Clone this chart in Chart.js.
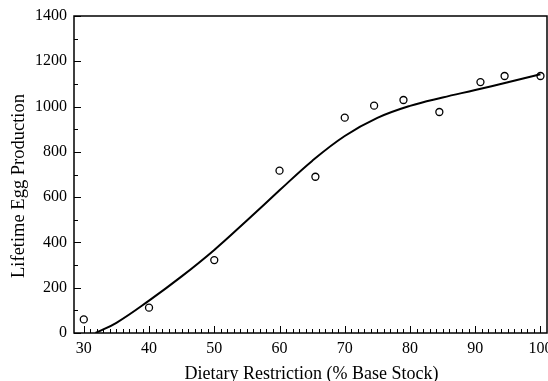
<!DOCTYPE html>
<html>
<head>
<meta charset="utf-8">
<script src="https://cdn.jsdelivr.net/npm/chart.js@4/dist/chart.umd.min.js"></script>
<style>
html,body{margin:0;padding:0;background:#fff;overflow:hidden;}
#wrap{width:548px;height:381px;position:relative;overflow:hidden;}
canvas{display:block;}
</style>
</head>
<body>
<div id="wrap"><canvas id="c" width="548" height="381"></canvas></div>
<script>
// Observed data points (circles)
const obsX = [30, 40, 50, 60, 65.5, 70, 74.5, 79, 84.5, 90.8, 94.5, 100];
const obsY = [60, 112, 322, 717, 690, 951, 1004, 1029, 976, 1108, 1135, 1135];
// Fitted curve
const fitX = [31.8, 35, 40, 45, 50, 55, 60, 65, 70, 75, 80, 85, 90, 95, 100];
const fitY = [0, 45, 143, 250, 367, 497, 630, 760, 870, 950, 1003, 1040, 1073, 1107, 1143];
// Tick labels
const xTicks = [30, 40, 50, 60, 70, 80, 90, 100];
const yTicks = [0, 200, 400, 600, 800, 1000, 1200, 1400];
const xTitle = 'Dietary Restriction (% Base Stock)';
const yTitle = 'Lifetime Egg Production';

const FONT = "'Liberation Serif', 'Times New Roman', serif";

const framePlugin = {
  id: 'frame',
  afterDraw(chart) {
    const {ctx, chartArea: a, scales: {x, y}} = chart;
    ctx.save();
    ctx.strokeStyle = '#000';
    ctx.lineWidth = 1.5;
    ctx.strokeRect(a.left, a.top, a.right - a.left, a.bottom - a.top);
    ctx.lineWidth = 1;
    // x ticks (inward)
    const xmin = xTicks[0], xmax = xTicks[xTicks.length - 1];
    for (let v = xmin; v <= xmax; v += 1) {
      const px = Math.round(x.getPixelForValue(v)) + 0.5;
      const len = xTicks.includes(v) ? 7 : 4;
      ctx.beginPath(); ctx.moveTo(px, a.bottom); ctx.lineTo(px, a.bottom - len); ctx.stroke();
    }
    // y ticks (inward)
    const step = (yTicks[1] - yTicks[0]) / 2;
    for (let v = yTicks[0]; v <= yTicks[yTicks.length - 1]; v += step) {
      const py = Math.round(y.getPixelForValue(v)) + 0.5;
      const len = yTicks.includes(v) ? 7 : 4;
      ctx.beginPath(); ctx.moveTo(a.left, py); ctx.lineTo(a.left + len, py); ctx.stroke();
    }
    ctx.fillStyle = '#000';
    // x tick labels placed through the x scale
    ctx.font = '16px ' + FONT;
    ctx.textAlign = 'center';
    ctx.textBaseline = 'middle';
    xTicks.forEach(v => ctx.fillText(String(v), x.getPixelForValue(v), a.bottom + 16));
    // titles
    ctx.font = '18px ' + FONT;
    ctx.textBaseline = 'alphabetic';
    ctx.fillText(xTitle, (a.left + a.right) / 2 + 1, 379);
    ctx.font = '18.5px ' + FONT;
    ctx.textBaseline = 'middle';
    ctx.translate(19, 186);
    ctx.rotate(-Math.PI / 2);
    ctx.fillText(yTitle, 0, 0);
    ctx.restore();
  }
};

new Chart(document.getElementById('c'), {
  type: 'scatter',
  data: {
    datasets: [
      {
        label: 'fit',
        data: fitX.map((v, i) => ({x: v, y: fitY[i]})),
        showLine: true,
        borderColor: '#000',
        borderWidth: 2,
        pointRadius: 0,
        tension: 0.4,
        fill: false
      },
      {
        label: 'observed',
        data: obsX.map((v, i) => ({x: v, y: obsY[i]})),
        showLine: false,
        pointRadius: 3.5,
        pointBorderWidth: 1.3,
        pointBorderColor: '#000',
        pointBackgroundColor: '#fff'
      }
    ]
  },
  options: {
    responsive: false,
    animation: false,
    events: [],
    layout: {autoPadding: false, padding: {top: 16, right: 1, left: 0, bottom: 0}},
    plugins: {legend: {display: false}, tooltip: {enabled: false}},
    scales: {
      x: {
        type: 'linear',
        min: 28.5,
        max: 101,
        grid: {display: false, drawTicks: false, tickLength: 0},
        border: {display: false},
        afterBuildTicks(s) { s.ticks = xTicks.map(v => ({value: v})); },
        afterFit(s) { s.height = 48; s.paddingLeft = 0; s.paddingRight = 0; },
        ticks: {display: false}
      },
      y: {
        type: 'linear',
        min: 0,
        max: 1400,
        grid: {display: false, drawTicks: false, tickLength: 0},
        border: {display: false},
        afterBuildTicks(s) { s.ticks = yTicks.map(v => ({value: v})); },
        afterFit(s) { s.width = 74; s.paddingTop = 0; s.paddingBottom = 0; },
        ticks: {
          color: '#000',
          padding: 7,
          font: {family: FONT, size: 16},
          callback: v => String(v)
        }
      }
    }
  },
  plugins: [framePlugin]
});
</script>
</body>
</html>
